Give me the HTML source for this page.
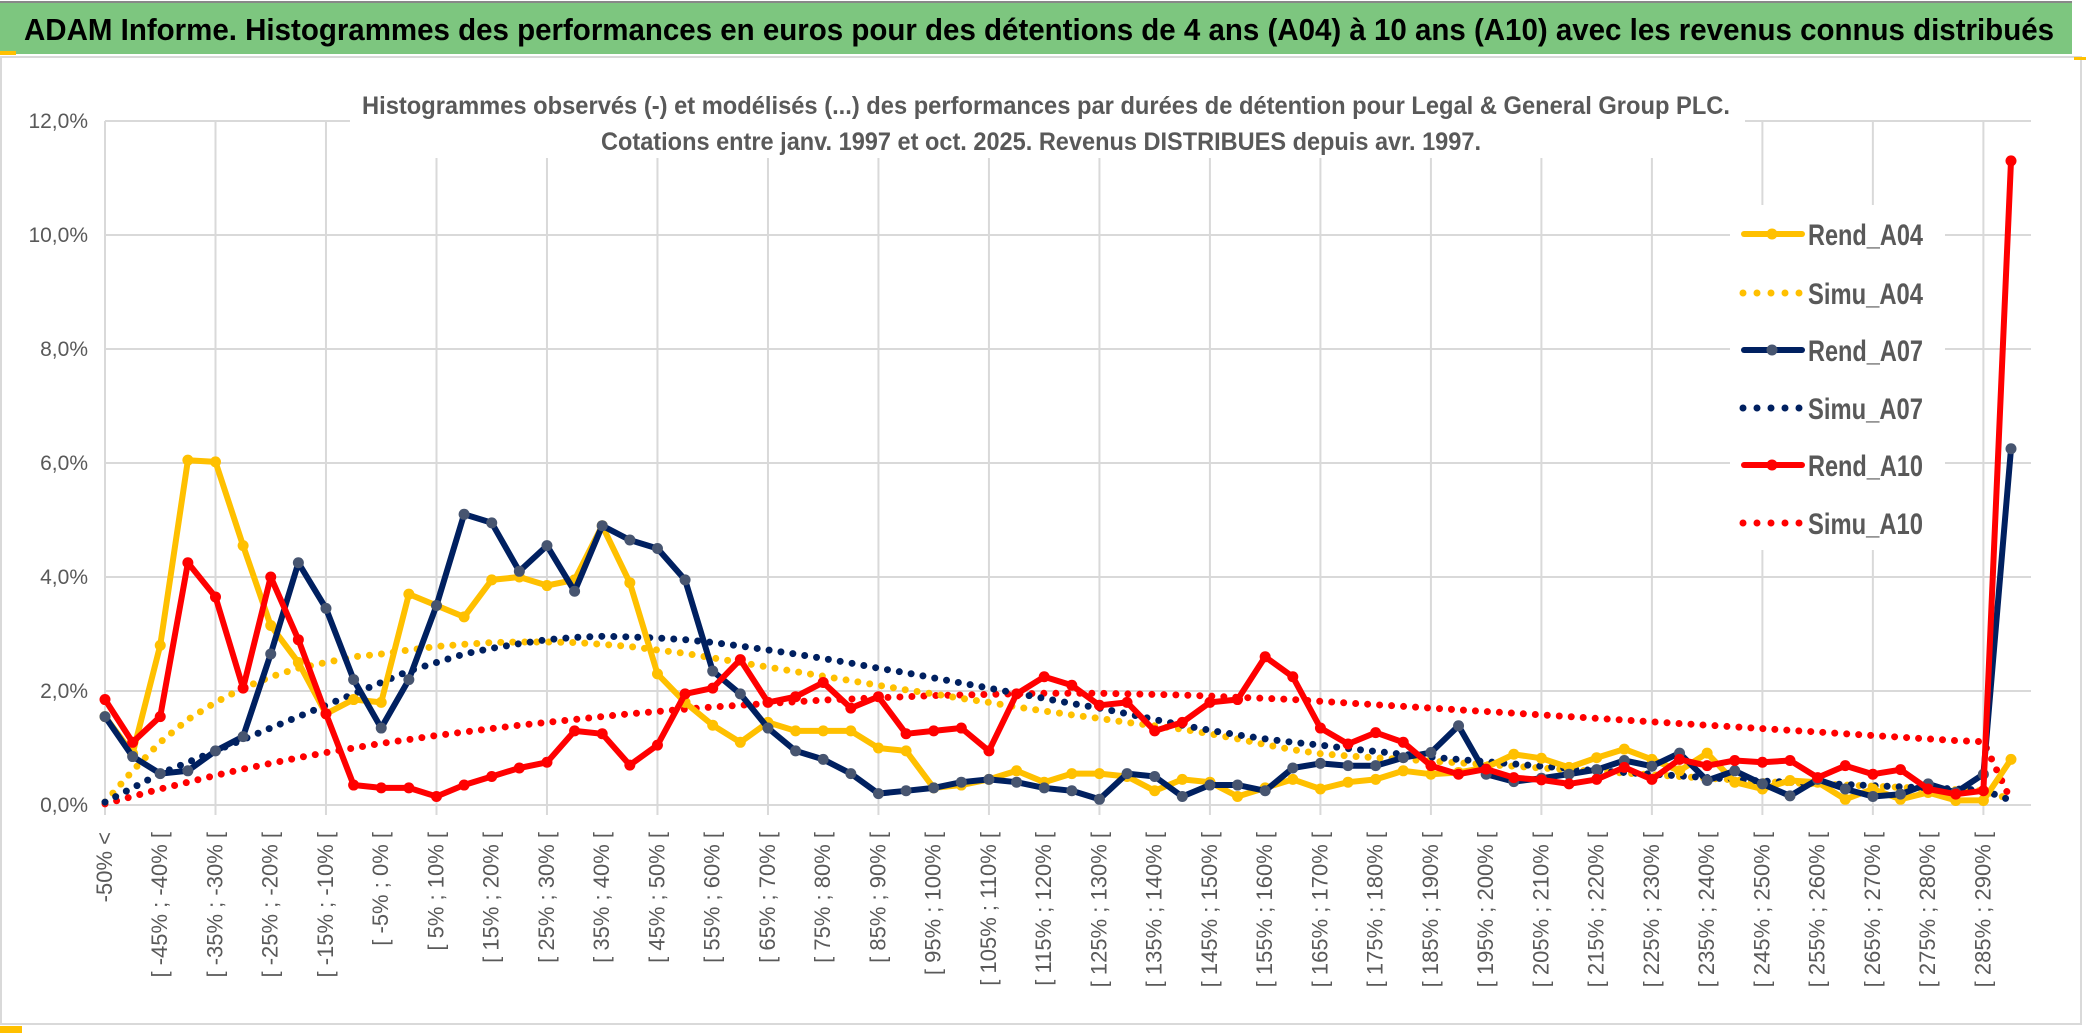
<!DOCTYPE html>
<html><head><meta charset="utf-8">
<style>
html,body{margin:0;padding:0;background:#fff;}
svg{display:block;font-family:"Liberation Sans Narrow","Liberation Sans",sans-serif;}
</style></head>
<body>
<svg id="chart" width="2086" height="1033" viewBox="0 0 2086 1033" xmlns="http://www.w3.org/2000/svg">
<rect x="0" y="0" width="2086" height="1033" fill="#fff"/>
<rect x="0" y="3" width="2072" height="51" fill="#7DC67F"/>
<line x1="0" y1="2" x2="2072" y2="2" stroke="#888" stroke-width="2"/>
<rect x="0" y="51" width="16" height="4" fill="#FFC000"/>
<text x="24" y="40" font-size="31" font-weight="bold" fill="#000" textLength="2030" lengthAdjust="spacingAndGlyphs">ADAM Informe. Histogrammes des performances en euros pour des détentions de 4 ans (A04) à 10 ans (A10) avec les revenus connus distribués</text>
<rect x="1" y="57" width="2080" height="967" fill="none" stroke="#d9d9d9" stroke-width="2"/>
<rect x="2074" y="57" width="12" height="3" fill="#FFC000"/>
<rect x="0" y="1026" width="22" height="7" fill="#FFC000"/>
<g id="grid"></g>
<g id="axes"></g>
<rect x="350" y="82" width="1395" height="76" fill="#fff"/>
<text x="1046" y="114" font-size="25" font-weight="bold" fill="#595959" text-anchor="middle" textLength="1368" lengthAdjust="spacingAndGlyphs">Histogrammes observés (-) et modélisés (...) des performances par durées de détention pour Legal &amp; General Group PLC.</text>
<text x="1041" y="150" font-size="25" font-weight="bold" fill="#595959" text-anchor="middle" textLength="880" lengthAdjust="spacingAndGlyphs">Cotations entre janv. 1997 et oct. 2025. Revenus DISTRIBUES depuis avr. 1997.</text>
<g id="series"></g>
<g id="legend"></g>
</svg>
<script>
const categories = [];
for (let k = 0; k <= 69; k++) categories.push(k === 0 ? "-50% <" : (k === 69 ? "> 290%" : "[ " + (-55 + 5 * k) + "% ; " + (-50 + 5 * k) + "% ["));
const yTicks = [0, 2, 4, 6, 8, 10, 12];
const yTickLabels = ["0,0%", "2,0%", "4,0%", "6,0%", "8,0%", "10,0%", "12,0%"];
const rendA04 = [1.55,0.9,2.8,6.05,6.02,4.55,3.15,2.5,1.6,1.85,1.8,3.7,3.5,3.3,3.95,4.0,3.85,3.95,4.9,3.9,2.3,1.8,1.4,1.1,1.45,1.3,1.3,1.3,1.0,0.95,0.3,0.35,0.45,0.6,0.4,0.55,0.55,0.5,0.25,0.45,0.4,0.15,0.3,0.45,0.28,0.4,0.45,0.6,0.54,0.57,0.66,0.89,0.82,0.66,0.83,0.98,0.8,0.6,0.91,0.4,0.28,0.43,0.4,0.1,0.28,0.1,0.22,0.08,0.08,0.8];
const rendA07 = [1.55,0.85,0.55,0.6,0.95,1.2,2.65,4.25,3.45,2.2,1.35,2.2,3.5,5.1,4.95,4.1,4.55,3.75,4.9,4.65,4.5,3.95,2.35,1.95,1.35,0.95,0.8,0.55,0.2,0.25,0.3,0.4,0.45,0.4,0.3,0.25,0.1,0.55,0.5,0.15,0.35,0.35,0.25,0.65,0.73,0.69,0.69,0.83,0.92,1.39,0.54,0.41,0.47,0.54,0.62,0.78,0.68,0.91,0.43,0.6,0.37,0.16,0.45,0.28,0.15,0.19,0.37,0.22,0.54,6.25];
const rendA10 = [1.85,1.1,1.55,4.25,3.65,2.05,4.0,2.9,1.6,0.35,0.3,0.3,0.15,0.35,0.5,0.65,0.75,1.3,1.25,0.7,1.05,1.95,2.05,2.55,1.8,1.9,2.15,1.7,1.9,1.25,1.3,1.35,0.95,1.95,2.25,2.1,1.75,1.8,1.3,1.45,1.8,1.85,2.6,2.25,1.35,1.07,1.27,1.1,0.69,0.54,0.63,0.48,0.44,0.37,0.45,0.66,0.45,0.8,0.69,0.78,0.75,0.78,0.48,0.69,0.54,0.62,0.28,0.19,0.25,11.3];
const simuA04 = [0.05,0.6,1.1,1.5,1.8,2.05,2.25,2.4,2.5,2.6,2.65,2.72,2.78,2.82,2.85,2.86,2.86,2.85,2.82,2.78,2.72,2.66,2.58,2.5,2.42,2.34,2.26,2.18,2.1,2.02,1.95,1.87,1.8,1.72,1.65,1.58,1.52,1.45,1.39,1.33,1.25,1.16,1.06,0.97,0.9,0.86,0.83,0.8,0.77,0.74,0.71,0.68,0.65,0.62,0.59,0.56,0.53,0.5,0.47,0.44,0.41,0.39,0.37,0.35,0.33,0.31,0.29,0.27,0.25,0.1];
const simuA07 = [0.05,0.3,0.55,0.75,0.95,1.15,1.35,1.55,1.75,1.95,2.15,2.35,2.5,2.65,2.75,2.83,2.9,2.94,2.96,2.95,2.93,2.9,2.85,2.79,2.72,2.65,2.57,2.49,2.4,2.32,2.23,2.14,2.05,1.96,1.87,1.78,1.7,1.6,1.5,1.4,1.31,1.23,1.16,1.1,1.05,0.99,0.94,0.89,0.84,0.8,0.76,0.72,0.68,0.64,0.6,0.57,0.54,0.51,0.48,0.45,0.42,0.4,0.38,0.36,0.34,0.32,0.3,0.28,0.26,0.08];
const simuA10 = [0.02,0.15,0.28,0.4,0.52,0.63,0.73,0.83,0.92,1.0,1.08,1.15,1.22,1.28,1.34,1.4,1.45,1.5,1.55,1.6,1.64,1.68,1.72,1.75,1.78,1.81,1.84,1.86,1.88,1.9,1.92,1.93,1.94,1.95,1.96,1.96,1.96,1.95,1.94,1.93,1.91,1.89,1.87,1.85,1.82,1.79,1.76,1.73,1.7,1.67,1.64,1.61,1.58,1.55,1.52,1.49,1.46,1.43,1.4,1.37,1.34,1.31,1.28,1.25,1.22,1.19,1.16,1.13,1.11,0.08];

const NS = "http://www.w3.org/2000/svg";
const X0 = 105, X1 = 2011, Y0 = 805, Y12 = 121;
function xScale(i) { return X0 + (X1 - X0) * i / (categories.length - 1); }
function yScale(v) { return Y0 - (Y0 - Y12) * v / 12; }
function mk(tag, attrs, parent) {
  const el = document.createElementNS(NS, tag);
  for (const k in attrs) el.setAttribute(k, attrs[k]);
  parent.appendChild(el);
  return el;
}
const grid = document.getElementById("grid");
const axes = document.getElementById("axes");
const series = document.getElementById("series");
const legend = document.getElementById("legend");

yTicks.forEach((t, j) => {
  const l = mk("line", {x1: X0, x2: X1 + 20, y1: yScale(t), y2: yScale(t), stroke: "#d9d9d9", "stroke-width": 2}, grid);
  
  
  const tx = mk("text", {x: 88, y: yScale(t) + 7, "font-size": 21, fill: "#595959", "text-anchor": "end"}, axes);
  tx.textContent = yTickLabels[j];
  
  
});
for (let i = 0; i < categories.length; i += 4) {
  const l = mk("line", {x1: xScale(i), x2: xScale(i), y1: Y12, y2: Y0 + 10, stroke: "#d9d9d9", "stroke-width": 2}, grid);
  
  
}
for (let i = 0; i < categories.length - 1; i += 2) {
  const x = xScale(i) + 7;
  const tx = mk("text", {x: x, y: 832, "font-size": 22, fill: "#595959", "text-anchor": "end", transform: "rotate(-90 " + x + " 832)"}, axes);
  tx.textContent = categories[i];
  
  
}

function pts(vals) { return vals.map((v, i) => xScale(i).toFixed(1) + "," + yScale(v).toFixed(1)).join(" "); }
function dotted(vals, color, name) {
  const p = mk("polyline", {points: pts(vals), fill: "none", stroke: color, "stroke-width": 7, "stroke-linecap": "round", "stroke-dasharray": "0 12"}, series);
  
  
}
function solid(vals, color, mcolor, name) {
  const g = mk("g", {}, series);
  
  
  mk("polyline", {points: pts(vals), fill: "none", stroke: color, "stroke-width": 6, "stroke-linejoin": "round"}, g);
  vals.forEach((v, i) => {
    const c = mk("circle", {cx: xScale(i), cy: yScale(v), r: 5.5, fill: mcolor}, g);
    
    
  });
}
dotted(simuA10, "#FF0000", "simu-a10-line");
dotted(simuA04, "#FFC000", "simu-a04-line");
dotted(simuA07, "#002060", "simu-a07-line");
solid(rendA04, "#FFC000", "#FFC000", "rend-a04-line");
solid(rendA07, "#002060", "#475570", "rend-a07-line");
solid(rendA10, "#FF0000", "#FF0000", "rend-a10-line");

const legItems = [
  ["Rend_A04", "#FFC000", "#FFC000", false, 234],
  ["Simu_A04", "#FFC000", null, true, 293],
  ["Rend_A07", "#002060", "#475570", false, 350],
  ["Simu_A07", "#002060", null, true, 408],
  ["Rend_A10", "#FF0000", "#FF0000", false, 465],
  ["Simu_A10", "#FF0000", null, true, 523]
];
mk("rect", {x: 1730, y: 205, width: 215, height: 345, fill: "#fff"}, legend);
legItems.forEach(it => {
  const g = mk("g", {}, legend);
  
  
  if (it[3]) {
    mk("line", {x1: 1743, x2: 1800, y1: it[4], y2: it[4], stroke: it[1], "stroke-width": 7, "stroke-linecap": "round", "stroke-dasharray": "0 14"}, g);
  } else {
    mk("line", {x1: 1744, x2: 1802, y1: it[4], y2: it[4], stroke: it[1], "stroke-width": 6, "stroke-linecap": "round"}, g);
    mk("circle", {cx: 1772, cy: it[4], r: 5.5, fill: it[2]}, g);
  }
  const t = mk("text", {x: 1808, y: it[4] + 11, "font-size": 30, "font-weight": "bold", fill: "#595959", textLength: 115, lengthAdjust: "spacingAndGlyphs"}, g);
  t.textContent = it[0];
});
</script>
</body></html>
